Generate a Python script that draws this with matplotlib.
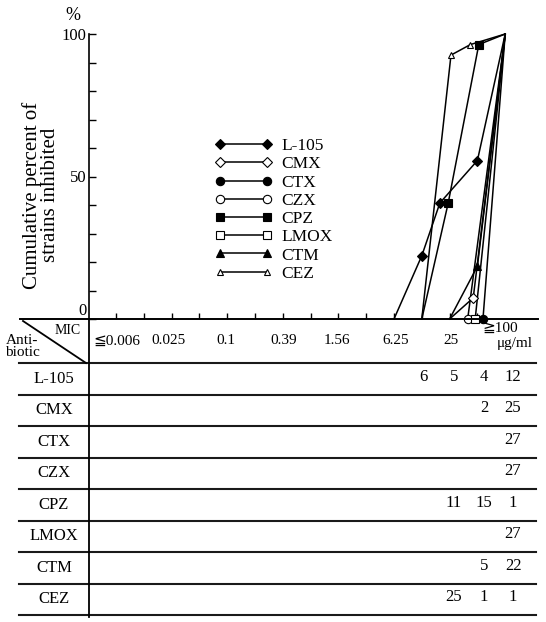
import matplotlib
matplotlib.use('Agg')
import matplotlib.pyplot as plt
from matplotlib.lines import Line2D

W, H, DPI = 546, 622, 100
plt.rcParams['font.family'] = ['Liberation Serif', 'DejaVu Serif', 'DejaVu Sans']

# ---- data -------------------------------------------------------------
# x of the curves is the two-fold dilution step index:
# 0=0.006, 1=0.0125, 2=0.025, ... 10=6.25, 11=12.5, 12=25, 13=50, 14=100
dilution_steps = ['0.006', '0.0125', '0.025', '0.05', '0.1', '0.2', '0.39',
                  '0.78', '1.56', '3.13', '6.25', '12.5', '25', '50', '100']
header_labels = ['≦0.006', '0.025', '0.1', '0.39', '1.56', '6.25', '25', '≧100']

antibiotics = ['L-105', 'CMX', 'CTX', 'CZX', 'CPZ', 'LMOX', 'CTM', 'CEZ']

# cumulative percent of strains inhibited
l105_x = [10, 11, 11.65, 13, 14]
l105_y = [0, 22.2, 40.7, 55.6, 100]
cmx_x = [12, 12.85, 14]
cmx_y = [0, 7.4, 100]
ctx_x = [13.2, 14]
ctx_y = [0, 100]
czx_x = [12.65, 14]
czx_y = [0, 100]
cpz_x = [11, 11.95, 13.05, 14]
cpz_y = [0, 40.7, 96.3, 100]
lmox_x = [12.92, 14]
lmox_y = [0, 100]
ctm_x = [12, 13, 14]
ctm_y = [0, 18.5, 100]
cez_x = [11, 12.05, 12.75, 14]
cez_y = [0, 92.6, 96.3, 100]

# which points of each curve carry a marker
l105_marked = [1, 2, 3]
cmx_marked = [1]
ctx_marked = [0]
czx_marked = [0]
cpz_marked = [1, 2]
lmox_marked = [0]
ctm_marked = [1]
cez_marked = [1, 2]

# number of strains per MIC column (12.5, 25, 50, >=100)
count_columns = ['12.5', '25', '50', '≧100']
l105_counts = [6, 5, 4, 12]
cmx_counts = [None, None, 2, 25]
ctx_counts = [None, None, None, 27]
czx_counts = [None, None, None, 27]
cpz_counts = [None, 11, 15, 1]
lmox_counts = [None, None, None, 27]
ctm_counts = [None, None, 5, 22]
cez_counts = [None, 25, 1, 1]

# ---- styles / layout --------------------------------------------------
series_x = [l105_x, cmx_x, ctx_x, czx_x, cpz_x, lmox_x, ctm_x, cez_x]
series_y = [l105_y, cmx_y, ctx_y, czx_y, cpz_y, lmox_y, ctm_y, cez_y]
series_marked = [l105_marked, cmx_marked, ctx_marked, czx_marked,
                 cpz_marked, lmox_marked, ctm_marked, cez_marked]
series_counts = [l105_counts, cmx_counts, ctx_counts, czx_counts,
                 cpz_counts, lmox_counts, ctm_counts, cez_counts]
markers = ['D', 'D', 'o', 'o', 's', 's', '^', '^']
faces = ['k', 'w', 'k', 'w', 'k', 'w', 'k', 'w']
msizes = [5, 5, 6, 6, 5.5, 5.5, 6, 4.5]


def fx(p):
    return p / W


def fy(p):
    return 1 - p / H


fig = plt.figure(figsize=(W / DPI, H / DPI), dpi=DPI)
ax_left, ax_right, ax_top, ax_bot = 89, 538, 34, 319
ax = fig.add_axes([fx(ax_left), fy(ax_bot), fx(ax_right - ax_left),
                   (ax_bot - ax_top) / H])

step_px, step0_px = 27.8, 116
ax.set_xlim((ax_left - step0_px) / step_px, (ax_right - step0_px) / step_px)
ax.set_ylim(0, 100)

for x, y, mk, m, fc, ms in zip(series_x, series_y, series_marked,
                               markers, faces, msizes):
    ax.plot(x, y, '-', color='k', lw=1.1, clip_on=False, zorder=2)
    ax.plot([x[i] for i in mk], [y[i] for i in mk], ls='none', marker=m,
            mfc=fc, mec='k', mew=0.8, ms=ms, clip_on=False, zorder=3)

for s in ['top', 'right', 'bottom']:
    ax.spines[s].set_visible(False)
ax.spines['left'].set_linewidth(1.2)
ax.set_xticks(range(0, 14))
ax.set_xticklabels([])
ax.tick_params(axis='x', direction='in', length=4, width=1.0)
ax.set_yticks([0, 50, 100])
ax.set_yticks(range(10, 100, 10), minor=True)
ax.tick_params(axis='y', which='both', direction='in', length=5, width=1.0,
               labelsize=12, pad=2)
ax.yaxis.get_major_ticks()[0].label1.set_verticalalignment('bottom')

fig.text(fx(73), fy(15), '%', ha='center', va='center', fontsize=13)
fig.text(fx(41), fy(195), 'Cumulative percent of\nstrains inhibited',
         rotation=90, ha='center', va='center', fontsize=15,
         linespacing=0.92, multialignment='center')

# legend
handles = [Line2D([], [], color='k', lw=1.1, marker=m, mfc=fc, mec='k',
                  mew=0.8, ms=ms)
           for m, fc, ms in zip(markers, faces, msizes)]
ax.legend(handles, antibiotics, loc='upper left',
          bbox_to_anchor=(fx(215), fy(138)), bbox_transform=fig.transFigure,
          frameon=False, numpoints=2, handlelength=3.28, handletextpad=0.54,
          labelspacing=0.12, borderpad=0, borderaxespad=0, fontsize=12.5)

# ---- table ------------------------------------------------------------
line_kw = dict(color='#1a1a1a', lw=1.5)
header_bot = 363
row_h = 31.5
rows_top = [header_bot + i * row_h for i in range(len(antibiotics) + 1)]
fig.add_artist(Line2D([fx(20), fx(538)], [fy(319), fy(319)], color='k', lw=1.4))
for yy in rows_top:
    fig.add_artist(Line2D([fx(19), fx(536)], [fy(yy), fy(yy)], **line_kw))
fig.add_artist(Line2D([fx(89), fx(89)], [fy(319), fy(rows_top[-1] + 2)],
                      color='k', lw=1.3))
fig.add_artist(Line2D([fx(23), fx(86)], [fy(321), fy(header_bot)],
                      color='k', lw=1.3))
fig.text(fx(68), fy(330), 'MIC', ha='center', va='center', fontsize=10)
fig.text(fx(22), fy(340), 'Anti-', ha='center', va='center', fontsize=11)
fig.text(fx(22), fy(353), 'biotic', ha='center', va='center', fontsize=11)

header_x = [117, 169, 226, 284, 337, 396, 451, 500]
for lab, hx in zip(header_labels, header_x):
    hy = 328 if lab.startswith('≧') else 341
    fig.text(fx(hx), fy(hy), lab, ha='center', va='center', fontsize=11)
fig.text(fx(533), fy(344), 'μg/ml', ha='right', va='center', fontsize=11)

count_x = [423, 454, 484, 513]
for i, (name, cnts) in enumerate(zip(antibiotics, series_counts)):
    cy = rows_top[i] + row_h / 2
    fig.text(fx(54), fy(cy), name, ha='center', va='center', fontsize=12)
    for c, cx in zip(cnts, count_x):
        if c is not None:
            fig.text(fx(cx), fy(cy - 2), str(c), ha='center', va='center',
                     fontsize=12)

fig.savefig('out.png', dpi=DPI)
